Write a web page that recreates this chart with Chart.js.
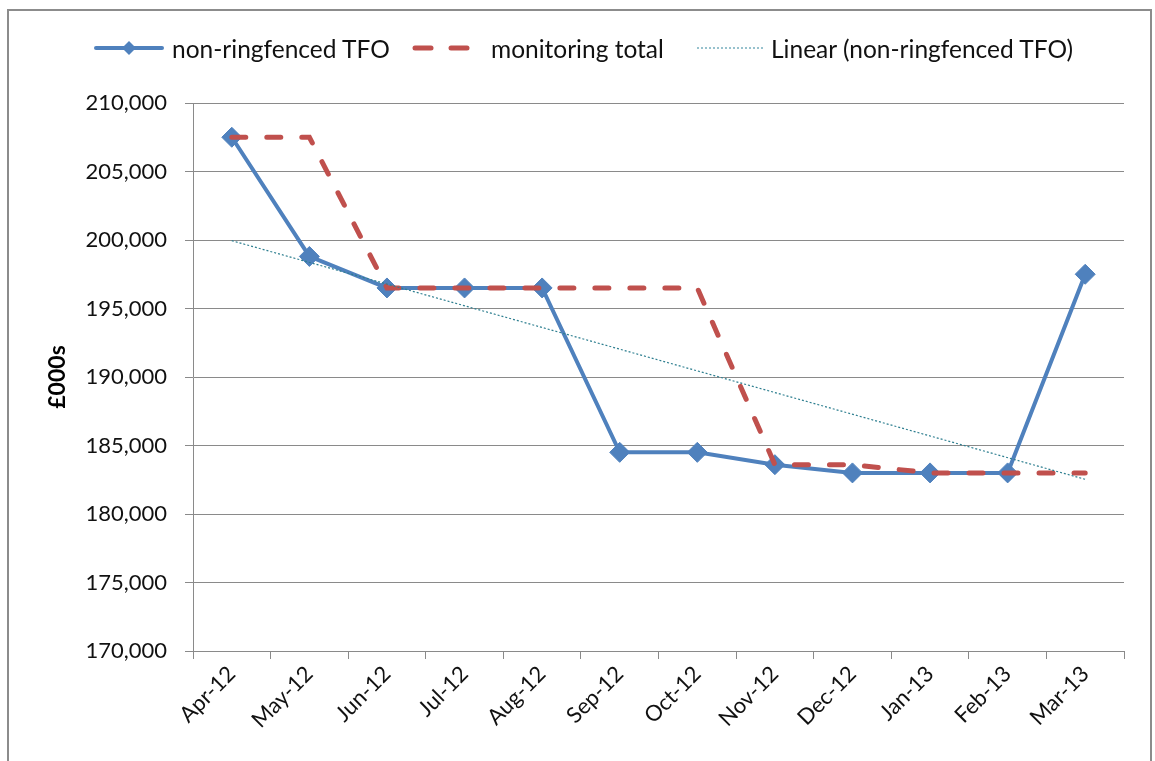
<!DOCTYPE html>
<html>
<head>
<meta charset="utf-8">
<script src="https://cdn.jsdelivr.net/npm/chart.js@4/dist/chart.umd.min.js"></script>
<style>
  html, body { margin: 0; padding: 0; background: #fff; }
  body { width: 1155px; height: 761px; position: relative; overflow: hidden; font-family: Lato, "Open Sans", sans-serif; }
  .frame { position: absolute; left: 7px; top: 9px; width: 1141px; height: 800px; border: 2px solid #8c8c8c; }
  .wrap { position: absolute; left: 0; top: 0; width: 1155px; height: 761px; }
  .legend { position: absolute; top: 33px; left: 0; height: 30px; width: 1155px; color: #111; font-size: 24.5px; }
  .legend .item { position: absolute; top: 0; display: flex; align-items: center; height: 30px; white-space: nowrap; }
  .legend svg { margin-right: 8px; }
</style>
</head>
<body>
<div class="frame"></div>
<div class="wrap"><canvas id="tfoChart" width="1155" height="761"></canvas></div>
<div class="legend">
  <div class="item" style="left:94px">
    <svg width="70" height="20"><line x1="2" y1="10" x2="68" y2="10" stroke="#4F81BD" stroke-width="4" stroke-linecap="round"/><polygon points="35,3 42,10 35,17 28,10" fill="#4F81BD"/></svg>
    <span>non-ringfenced TFO</span>
  </div>
  <div class="item" style="left:410px">
    <svg width="74" height="20" style="margin-right:7px"><line x1="5" y1="10" x2="21" y2="10" stroke="#C0504D" stroke-width="5" stroke-linecap="round"/><line x1="41" y1="10" x2="57" y2="10" stroke="#C0504D" stroke-width="5" stroke-linecap="round"/></svg>
    <span>monitoring total</span>
  </div>
  <div class="item" style="left:697px">
    <svg width="66" height="20"><line x1="0" y1="10" x2="66" y2="10" stroke="#31859C" stroke-width="1" stroke-dasharray="2,2"/></svg>
    <span>Linear (non-ringfenced TFO)</span>
  </div>
</div>
<script>
// months Apr-12 .. Mar-13
const months = ['Apr-12', 'May-12', 'Jun-12', 'Jul-12', 'Aug-12', 'Sep-12',
                'Oct-12', 'Nov-12', 'Dec-12', 'Jan-13', 'Feb-13', 'Mar-13'];

// £000s
const nonRingfenced = [207500, 198800, 196500, 196500, 196500, 184500,
                       184500, 183600, 183000, 183000, 183000, 197500];
const monitoringTotal = [207500, 207500, 196500, 196500, 196500, 196500,
                         196500, 183600, 183600, 183000, 183000, 183000];
// trend line end points only (Excel linear trendline)
const linearTrend = [199950, null, null, null, null, null,
                     null, null, null, null, null, 182530];

const yMin = 170000;
const yMax = 210000;
const yStep = 5000;

const gridColor = '#8a8a8a';
const textColor = '#111';

const ctx = document.getElementById('tfoChart').getContext('2d');
new Chart(ctx, {
    type: 'line',
    data: {
        labels: months,
        datasets: [
            {
                label: 'non-ringfenced TFO',
                data: nonRingfenced,
                borderColor: '#4F81BD',
                backgroundColor: '#4F81BD',
                borderWidth: 4,
                pointStyle: 'rectRot',
                pointRadius: 10,
                pointBorderWidth: 1,
                pointBackgroundColor: '#4F81BD',
                pointBorderColor: '#4F81BD',
                tension: 0,
                order: 3
            },
            {
                label: 'monitoring total',
                data: monitoringTotal,
                borderColor: '#C0504D',
                borderWidth: 5,
                borderDash: [14, 21],
                borderCapStyle: 'round',
                pointRadius: 0,
                tension: 0,
                order: 2
            },
            {
                label: 'Linear (non-ringfenced TFO)',
                data: linearTrend,
                borderColor: '#2E7F90',
                borderWidth: 1.2,
                borderDash: [2, 2],
                pointRadius: 0,
                spanGaps: true,
                order: 1
            }
        ]
    },
    options: {
        responsive: false,
        animation: false,
        layout: {
            padding: { left: 44, top: 103, right: 31, bottom: 0 }
        },
        plugins: {
            legend: { display: false },
            tooltip: { enabled: false }
        },
        scales: {
            x: {
                offset: true,
                grid: {
                    offset: true,
                    drawOnChartArea: false,
                    drawTicks: true,
                    tickLength: 8,
                    color: gridColor
                },
                border: { color: gridColor, width: 1 },
                ticks: {
                    color: textColor,
                    font: { family: 'Lato', size: 22 },
                    minRotation: 45,
                    maxRotation: 45,
                    padding: 2
                },
                afterFit: (scale) => { scale.height = 110; }
            },
            y: {
                min: yMin,
                max: yMax,
                grid: {
                    color: gridColor,
                    tickLength: 8
                },
                border: { color: gridColor, width: 1 },
                ticks: {
                    stepSize: yStep,
                    color: textColor,
                    padding: 18,
                    font: { family: 'Lato', size: 22 },
                    callback: (v) => v.toLocaleString('en-GB')
                },
                title: {
                    display: true,
                    text: '£000s',
                    color: '#000',
                    font: { family: 'Lato', size: 23, weight: 'bold' },
                    padding: 0
                },
                afterFit: (scale) => { scale.width = 149; }
            }
        }
    }
});
</script>
</body>
</html>
